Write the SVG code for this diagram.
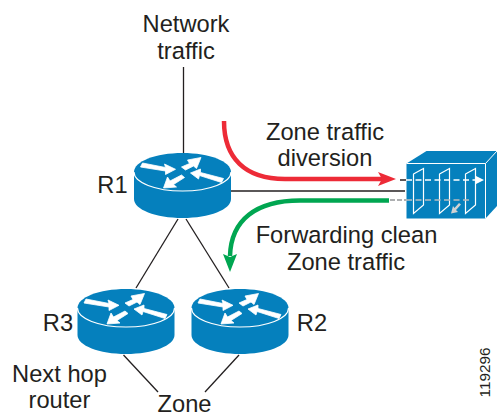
<svg xmlns="http://www.w3.org/2000/svg" width="497" height="417" viewBox="0 0 497 417">
<style>
text{font-family:"Liberation Sans",Arial,sans-serif;font-size:23.700px;fill:#231f20;text-anchor:middle}
.l{stroke:#231f20;stroke-width:1.300;fill:none}
.body{fill:#0580bd}
.rim{fill:none;stroke:#fff;stroke-width:1.200}
.ar{fill:#fff;stroke:#fff;stroke-width:.8;stroke-linejoin:miter}
</style>
<defs>
<g id="router">
<path class="body" d="M-48.500 0V27C-48.500 37.500-27 46-0 46S48.500 37.500 48.500 27V0C48.500-10.500 27-19 0-19S-48.500-10.500-48.500 0Z"/>
<path class="rim" d="M-48.500 0C-48.500 10.500-27 19 0 19S48.500 10.500 48.500 0"/>
<path class="ar" d="M-42 -5L-40 -9L-17 -4.500L-18 -8L-7 -2.700L-17 2.500L-17 -1Z"/>
<path class="ar" d="M-1 -5L3 -2L11 -6L14 -3.500L18.500 -14.500L5 -12L7 -8.500Z"/>
<path class="ar" d="M41 6.500L39 10.500L17 3.500L16 7L8 1L18 -3L18 0.500Z"/>
<path class="ar" d="M-1 3L2 5.500L-9 12.500L-6 15L-19 16L-15 5L-12.500 9Z"/>
</g>
</defs>
<g id="connectors">
<path class="l" d="M183.500 67V153"/>
<path class="l" d="M231 191H405"/>
<path class="l" d="M178 219L136 288"/>
<path class="l" d="M186 219L229 288"/>
<path class="l" d="M123.500 355L158 392"/>
<path class="l" d="M239 355L205 392"/>
<path d="M224 121C224 158 245 179 285 179H382" fill="none" stroke="#ed2b37" stroke-width="4.500"/>
<path d="M378 172L396 179L378 186L382 179Z" fill="#ed2b37"/>
<path d="M389 200.500H300C256 200.500 231 220 230 256" fill="none" stroke="#00a651" stroke-width="4.500"/>
<path d="M223 254L230 272L237 254L230 257Z" fill="#00a651"/>
<path d="M400 180H406" stroke="#231f20" stroke-width="1.500"/>
<path d="M390 200H406" stroke="#939598" stroke-width="1.500" stroke-dasharray="5 2"/>
</g>
<g id="node-r1"><use href="#router" x="182.500" y="172"/><text x="112.500" y="193">R1</text></g>
<g id="node-r3"><use href="#router" x="126" y="308"/><text x="58" y="331">R3</text></g>
<g id="node-r2"><use href="#router" x="240" y="308"/><text x="312" y="331">R2</text></g>
<g id="node-firewall">
<path class="body" d="M426.500 151H497V206L485.500 218.500H406.500V163.500Z"/>
<path d="M406.500 163.500H485.500L497 151M485.500 163.500V218.500" fill="none" stroke="#fff" stroke-width="1"/>
<path d="M413.500 174L423.500 168.500V205L413.500 213.500Z M439.500 174L449.500 168.500V205L439.500 213.500Z M465.500 174L475.500 168.500V205L465.500 213.500Z" fill="none" stroke="#fff" stroke-width="1.200"/>
<path d="M406 180H475" fill="none" stroke="#fff" stroke-width="1.500" stroke-dasharray="6 3.500"/>
<path d="M475 175.500L484 180L475 184.500Z" fill="#fff"/>
<path d="M406 200H470" fill="none" stroke="#b9bcbe" stroke-width="1.500" stroke-dasharray="6 3.500"/>
<path d="M461 204.500L456 210L458 212L451 213.500L453 206L454.500 208L459 203Z" fill="#d0d2d3"/>
</g>
<g id="labels">
<text x="186" y="32">Network</text>
<text x="186" y="59">traffic</text>
<text x="325" y="140">Zone traffic</text>
<text x="325" y="166">diversion</text>
<text x="346.500" y="243">Forwarding clean</text>
<text x="346" y="270">Zone traffic</text>
<text x="59.500" y="382">Next hop</text>
<text x="59.500" y="408">router</text>
<text x="184.500" y="411.500">Zone</text>
<text transform="translate(490 372.500) rotate(-90)" style="font-size:15.300px">119296</text>
</g>
</svg>
